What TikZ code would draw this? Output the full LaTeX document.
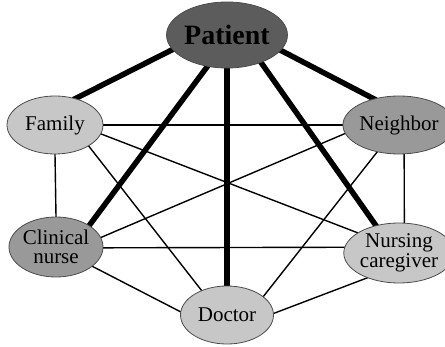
\documentclass[tikz,border=0pt]{standalone}
\usepackage{fontspec}
\setmainfont{Liberation Serif}
\usetikzlibrary{shapes.geometric,backgrounds}
\definecolor{darkfill}{gray}{0.36}
\definecolor{midfill}{gray}{0.60}
\definecolor{lightfill}{gray}{0.78}
\tikzset{
  member/.style={ellipse, draw=black!70, line width=0.8pt, inner sep=0pt,
    minimum width=94pt, minimum height=58pt, align=center,
    font=\fontsize{21}{19.5}\selectfont},
  hub/.style={member, minimum width=94pt, minimum height=66pt, fill=darkfill,
    font=\fontsize{28}{28}\selectfont\bfseries},
  strong/.style={line width=5.5pt, shorten <=-3pt, shorten >=-3pt},
  weak/.style={line width=1.4pt, shorten <=-1pt, shorten >=-1pt}
}
\begin{document}
\begin{tikzpicture}[x=1pt,y=-1pt]
\useasboundingbox (0,0) rectangle (445,347);
\node[hub] (pat) at (227,35) {Patient};
\node[member, fill=lightfill, minimum width=96pt] (fam) at (55,125) {Family};
\node[member, fill=midfill, minimum width=90pt] (nei) at (399,125) {Neighbor};
\node[member, fill=midfill, minimum height=60pt] (cli) at (56,247) {Clinical\\nurse};
\node[member, fill=lightfill, minimum width=92pt, minimum height=60pt] (car) at (399,253) {Nursing\\caregiver};
\node[member, fill=lightfill, minimum width=93pt] (doc) at (227,315) {Doctor};
\begin{scope}[on background layer]
  % ties between the patient and every carer
  \draw[strong] (pat.195) -- (fam.52);
  \draw[strong] (pat.344) -- (nei.134);
  \draw[strong] (pat.238) -- (cli.33);
  \draw[strong] (pat.south) -- (doc.north);
  \draw[strong] (pat.321) -- (car.130);
  % ties among the carers
  \draw[weak] (fam.east) -- (nei.west);
  \draw[weak] (fam.south) -- (cli.north);
  \draw[weak] (fam.349) -- (car.154);
  \draw[weak] (fam.328) -- (doc.136);
  \draw[weak] (nei.189) -- (cli.12);
  \draw[weak] (nei.231) -- (doc.27);
  \draw[weak] (nei.280) -- (car.80);
  \draw[weak] (cli.359) -- (car.174);
  \draw[weak] (cli.332) -- (doc.176);
  \draw[weak] (doc.2) -- (car.218);
\end{scope}
\end{tikzpicture}
\end{document}
